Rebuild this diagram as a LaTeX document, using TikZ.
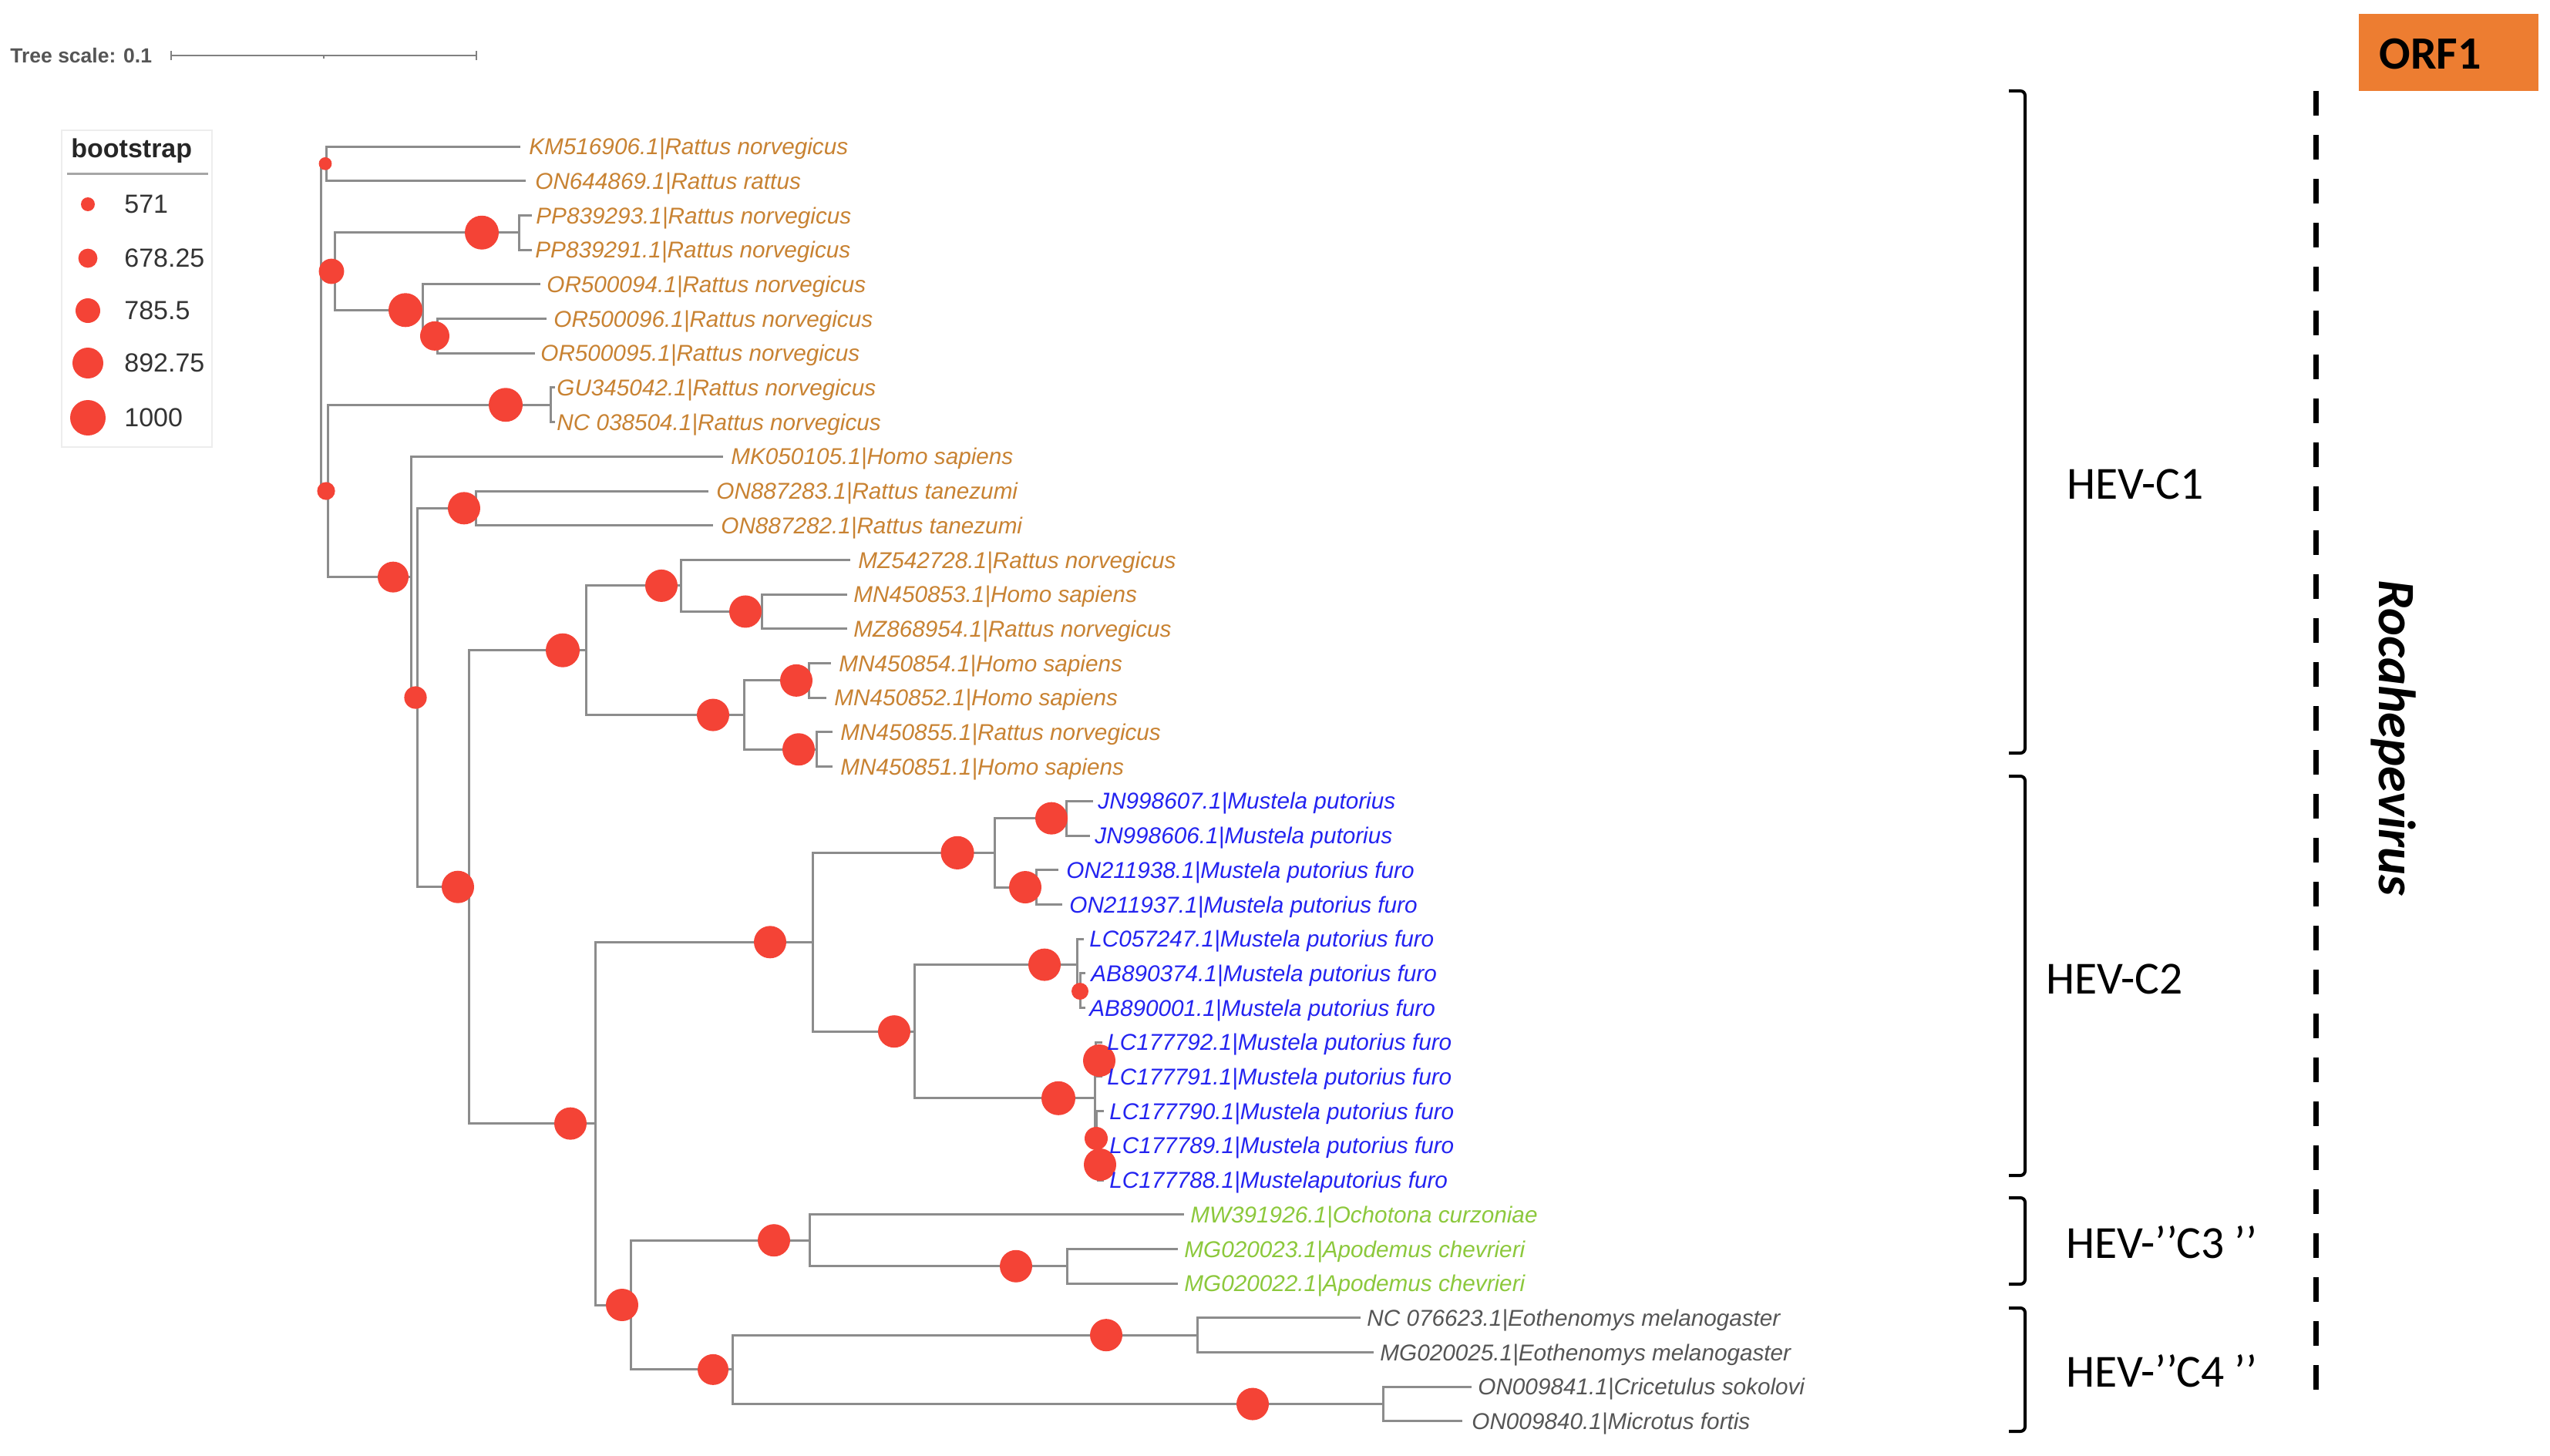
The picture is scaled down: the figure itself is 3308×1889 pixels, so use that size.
\documentclass[tikz,border=0pt]{standalone}
\usepackage{fontspec}
\setmainfont{Liberation Sans}
\newfontfamily\calib{Carlito}
\definecolor{brgray}{RGB}{140,140,140}
\definecolor{bsred}{RGB}{244,67,54}
\definecolor{orl}{RGB}{200,130,50}
\definecolor{bll}{RGB}{35,35,240}
\definecolor{grl}{RGB}{140,200,60}
\definecolor{gyl}{RGB}{85,85,85}
\definecolor{orfbox}{RGB}{237,125,49}
\begin{document}
\begin{tikzpicture}[x=0.5pt,y=-0.5pt,
  br/.style={draw=brgray,line width=1.5pt},
  lab/.style={anchor=base west,inner sep=0pt,yshift=-5.3pt,font=\fontsize{14.85}{16}\selectfont\itshape},
  clade/.style={anchor=west,inner sep=0pt,font=\calib\fontsize{29.8}{32}\selectfont},
  brk/.style={draw=black,line width=2pt,rounded corners=3pt},
  legtxt/.style={anchor=west,inner sep=0pt,text=black!80,font=\fontsize{17}{19}\selectfont}]
\useasboundingbox (0,0) rectangle (3308,1889);
% tree scale
\node[anchor=west,inner sep=0pt,text=gyl,font=\bfseries\fontsize{13.25}{15}\selectfont] (ts) at (13,72) {Tree scale: 0.1};
\coordinate (sb1) at (222,72); \coordinate (sb2) at (618,72); \coordinate (sbm) at (420,72);
\draw[draw=gray,line width=1.4pt] (sb1) -- (sb2);
\draw[draw=gray,line width=1.4pt] ([yshift=3pt]sb1) -- ([yshift=-3pt]sb1);
\draw[draw=gray,line width=1.4pt] ([yshift=3pt]sb2) -- ([yshift=-3pt]sb2);
\draw[draw=gray,line width=1pt] (sbm) -- ([yshift=-2pt]sbm);
% legend
\draw[draw=black!7,line width=0.6pt] (80,169) rectangle (275,580);
\node[anchor=base west,inner sep=0pt,text=black!85,font=\bfseries\fontsize{17}{19}\selectfont] (bt) at (92,205) {bootstrap};
\draw[draw=gray!70,line width=1.5pt] (87,225) -- (270,225);
\foreach \yy/\rr/\tt [count=\k] in {265/4.5/571,335/6.2/678.25,403/8/785.5,471/10/892.75,542/11.5/1000}{
  \fill[bsred] (114,\yy) circle[radius=\rr pt];
  \node[legtxt] (lg\k) at (161,\yy) {\tt};
}
% tips
\foreach \e/\lx/\c/\t [count=\i] in {
675/686/orl/{KM516906.1|Rattus norvegicus},
682/694/orl/{ON644869.1|Rattus rattus},
690/695/orl/{PP839293.1|Rattus norvegicus},
690/694/orl/{PP839291.1|Rattus norvegicus},
701/709/orl/{OR500094.1|Rattus norvegicus},
709/718/orl/{OR500096.1|Rattus norvegicus},
694/701/orl/{OR500095.1|Rattus norvegicus},
720/722/orl/{GU345042.1|Rattus norvegicus},
720/722/orl/{NC 038504.1|Rattus norvegicus},
938/948/orl/{MK050105.1|Homo sapiens},
919/929/orl/{ON887283.1|Rattus tanezumi},
925/935/orl/{ON887282.1|Rattus tanezumi},
1103/1113/orl/{MZ542728.1|Rattus norvegicus},
1099/1107/orl/{MN450853.1|Homo sapiens},
1099/1107/orl/{MZ868954.1|Rattus norvegicus},
1078/1088/orl/{MN450854.1|Homo sapiens},
1072/1082/orl/{MN450852.1|Homo sapiens},
1080/1090/orl/{MN450855.1|Rattus norvegicus},
1080/1090/orl/{MN450851.1|Homo sapiens},
1418/1424/bll/{JN998607.1|Mustela putorius},
1414/1420/bll/{JN998606.1|Mustela putorius},
1373/1383/bll/{ON211938.1|Mustela putorius furo},
1378/1387/bll/{ON211937.1|Mustela putorius furo},
1406/1413/bll/{LC057247.1|Mustela putorius furo},
1408/1415/bll/{AB890374.1|Mustela putorius furo},
1408/1413/bll/{AB890001.1|Mustela putorius furo},
1430/1436/bll/{LC177792.1|Mustela putorius furo},
1430/1436/bll/{LC177791.1|Mustela putorius furo},
1432/1439/bll/{LC177790.1|Mustela putorius furo},
1432/1439/bll/{LC177789.1|Mustela putorius furo},
1432/1439/bll/{LC177788.1|Mustelaputorius furo},
1536/1544/grl/{MW391926.1|Ochotona curzoniae},
1528/1536/grl/{MG020023.1|Apodemus chevrieri},
1528/1536/grl/{MG020022.1|Apodemus chevrieri},
1765/1773/gyl/{NC 076623.1|Eothenomys melanogaster},
1782/1790/gyl/{MG020025.1|Eothenomys melanogaster},
1909/1917/gyl/{ON009841.1|Cricetulus sokolovi},
1897/1909/gyl/{ON009840.1|Microtus fortis}}{
  \pgfmathsetmacro\yy{190+(\i-1)*44.7}
  \coordinate (t\i) at (\e,\yy);
  \coordinate (lp\i) at (\lx,\yy);
}
% internal nodes
\coordinate (R) at (416,425);
\coordinate (A) at (423,212.35);
\coordinate (BC) at (434,352);
\coordinate (B) at (673,301.75);
\coordinate (C) at (548,402.3);
\coordinate (D) at (567,435.85);
\coordinate (X) at (425,636.95);
\coordinate (G) at (714,525.25);
\coordinate (Y) at (533,748.65);
\coordinate (Y2) at (541,905);
\coordinate (Z) at (617,659.35);
\coordinate (W) at (608,1150.7);
\coordinate (V) at (760,843.7);
\coordinate (V1) at (883,759.9);
\coordinate (V1a) at (988,793.45);
\coordinate (V2) at (965,927.55);
\coordinate (V2a) at (1049,882.85);
\coordinate (V2b) at (1059,972.25);
\coordinate (U) at (772,1457.65);
\coordinate (U1) at (1054,1222.3);
\coordinate (U1a) at (1290,1106.35);
\coordinate (P1) at (1383,1061.65);
\coordinate (P2) at (1344,1151.05);
\coordinate (U1b) at (1186,1338.2);
\coordinate (Q1) at (1397,1251.6);
\coordinate (Q1a) at (1401,1285.15);
\coordinate (Q2) at (1420,1424.8);
\coordinate (Q2a) at (1421,1374.55);
\coordinate (Q2b) at (1422,1475.1);
\coordinate (Q2c) at (1424,1508.65);
\coordinate (U2) at (818,1693);
\coordinate (T1) at (1050,1609.2);
\coordinate (T1b) at (1384,1642.75);
\coordinate (T2) at (950,1776.85);
\coordinate (T2a) at (1553,1732.15);
\coordinate (T2b) at (1794,1821.55);
% branches
\foreach \p/\q in {R/A,R/BC,R/X,A/t1,A/t2,BC/B,BC/C,B/t3,B/t4,C/t5,C/D,D/t6,D/t7,
  X/G,X/Y,G/t8,G/t9,Y/t10,Y/Y2,Y2/Z,Y2/W,Z/t11,Z/t12,W/V,W/U,V/V1,V/V2,
  V1/t13,V1/V1a,V1a/t14,V1a/t15,V2/V2a,V2/V2b,V2a/t16,V2a/t17,V2b/t18,V2b/t19,
  U/U1,U/U2,U1/U1a,U1/U1b,U1a/P1,U1a/P2,P1/t20,P1/t21,P2/t22,P2/t23,
  U1b/Q1,U1b/Q2,Q1/t24,Q1/Q1a,Q1a/t25,Q1a/t26,Q2/Q2a,Q2/Q2b,Q2a/t27,Q2a/t28,
  Q2b/t29,Q2b/Q2c,Q2c/t30,Q2c/t31,U2/T1,U2/T2,T1/t32,T1/T1b,T1b/t33,T1b/t34,
  T2/T2a,T2/T2b,T2a/t35,T2a/t36,T2b/t37,T2b/t38}{
  \draw[br] (\p) |- (\q);
}
% bootstrap symbols
\foreach \bx/\by/\rr in {422/212.35/4.2,430/352/8.2,625/301.75/11,526/402.3/11,564/435.85/9.5,
  656/525.25/11,423/637/5.8,510/748.65/10,539/905/7.3,602/659.35/10.5,594/1150.7/10.5,
  730/843.7/11,858/759.9/10.5,967/793.45/10.5,925/927.55/10.5,1033/882.85/10.5,1036/972.25/10.5,
  740/1457.65/10.5,999/1222.3/10.5,1242/1106.35/10.8,1364/1061.65/10.5,1330/1151.05/10.5,
  1160/1338.2/10.5,1355/1251.6/10.5,1401/1286/5.5,1373/1424.8/11,1426/1376/10.5,
  1422/1477/7.5,1427/1511/10.5,807/1693/10.5,1004/1609.2/10.5,1318/1642.75/10.5,
  925/1776.85/10,1435/1732.15/10.5,1625/1821.55/10.5}{
  \fill[bsred] (\bx,\by) circle[radius=\rr pt];
}
% labels
\foreach \c/\t [count=\i] in {
orl/{KM516906.1|Rattus norvegicus},
orl/{ON644869.1|Rattus rattus},
orl/{PP839293.1|Rattus norvegicus},
orl/{PP839291.1|Rattus norvegicus},
orl/{OR500094.1|Rattus norvegicus},
orl/{OR500096.1|Rattus norvegicus},
orl/{OR500095.1|Rattus norvegicus},
orl/{GU345042.1|Rattus norvegicus},
orl/{NC 038504.1|Rattus norvegicus},
orl/{MK050105.1|Homo sapiens},
orl/{ON887283.1|Rattus tanezumi},
orl/{ON887282.1|Rattus tanezumi},
orl/{MZ542728.1|Rattus norvegicus},
orl/{MN450853.1|Homo sapiens},
orl/{MZ868954.1|Rattus norvegicus},
orl/{MN450854.1|Homo sapiens},
orl/{MN450852.1|Homo sapiens},
orl/{MN450855.1|Rattus norvegicus},
orl/{MN450851.1|Homo sapiens},
bll/{JN998607.1|Mustela putorius},
bll/{JN998606.1|Mustela putorius},
bll/{ON211938.1|Mustela putorius furo},
bll/{ON211937.1|Mustela putorius furo},
bll/{LC057247.1|Mustela putorius furo},
bll/{AB890374.1|Mustela putorius furo},
bll/{AB890001.1|Mustela putorius furo},
bll/{LC177792.1|Mustela putorius furo},
bll/{LC177791.1|Mustela putorius furo},
bll/{LC177790.1|Mustela putorius furo},
bll/{LC177789.1|Mustela putorius furo},
bll/{LC177788.1|Mustelaputorius furo},
grl/{MW391926.1|Ochotona curzoniae},
grl/{MG020023.1|Apodemus chevrieri},
grl/{MG020022.1|Apodemus chevrieri},
gyl/{NC 076623.1|Eothenomys melanogaster},
gyl/{MG020025.1|Eothenomys melanogaster},
gyl/{ON009841.1|Cricetulus sokolovi},
gyl/{ON009840.1|Microtus fortis}}{
  \node[lab,text=\c] (l\i) at (lp\i) {\t};
}
% clade brackets
\draw[brk] (2606,118) -- (2627,118) -- (2627,977) -- (2606,977);
\draw[brk] (2606,1007) -- (2627,1007) -- (2627,1525) -- (2606,1525);
\draw[brk] (2606,1554) -- (2627,1554) -- (2627,1666) -- (2606,1666);
\draw[brk] (2606,1697) -- (2627,1697) -- (2627,1857) -- (2606,1857);
\node[clade] (c1) at (2681,628) {HEV-C1};
\node[clade] (c2) at (2654,1270) {HEV-C2};
\node[clade] (c3) at (2680,1612) {HEV-’’C3 ’’};
\node[clade] (c4) at (2680,1779) {HEV-’’C4 ’’};
% genus
\coordinate (d1) at (3004,118); \coordinate (d2) at (3004,1827);
\draw[draw=black,line width=3.5pt,dash pattern=on 16pt off 12.5pt] (d1) -- (d2);
\node[anchor=base,inner sep=0pt,rotate=-90,font=\calib\bfseries\itshape\fontsize{34}{36}\selectfont] (roca) at (3086,957.5) {Rocahepevirus};
% ORF1 box
\fill[orfbox] (3060,18) rectangle (3293,118);
\node[anchor=west,inner sep=0pt,font=\calib\bfseries\fontsize{30}{32}\selectfont] (orf) at (3086,70) {ORF1};
\end{tikzpicture}
\end{document}
